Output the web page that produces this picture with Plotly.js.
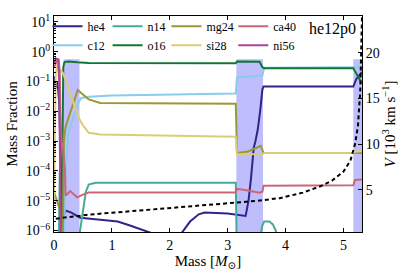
<!DOCTYPE html>
<html><head><meta charset="utf-8">
<script src="https://cdn.plot.ly/plotly-3.0.1.min.js"></script>
<style>html,body{margin:0;padding:0;background:#fff}#c{width:411px;height:274px}</style>
</head><body><div id="c"></div>
<script>
// ---- data (mass coordinate in Msun, mass fractions) ----
const he4_m = [0.0,0.03,0.06,0.09,0.12,0.14,0.17,0.2,0.3,0.45,0.8,1.1,1.3,1.5,1.7,2.0,2.2,2.35,2.5,2.6,3.0,3.31,3.36,3.40,3.45,3.48,3.52,3.56,3.60,3.62,5.17,5.22,5.32];
const he4_x = [0.15,0.06,0.1,0.02,1e-4,1e-6,3e-6,4.7e-6,4e-6,2.7e-6,2.3e-6,2e-6,1.5e-6,1.1e-6,8e-7,6e-7,8e-7,2e-6,3.5e-6,4e-6,3.7e-6,3.1e-6,1e-5,5e-5,6e-4,1e-3,2.5e-3,1e-2,0.055,0.068,0.068,0.12,0.21];

const c12_m = [0.17,0.19,0.2,0.25,0.3,0.37,0.43,0.47,0.6,1.0,2.0,3.14,3.16,3.5,3.6,3.63,5.17,5.32];
const c12_x = [1e-7,1e-5,1e-4,2e-3,4e-3,0.01,0.021,0.028,0.031,0.034,0.037,0.04,0.135,0.15,0.16,0.29,0.3,0.3];

const n14_m = [0.08,0.1,0.12,0.4,0.45,0.5,0.55,0.6,0.72,3.14,3.16,3.55,3.6,3.63,3.72,3.78,3.83,3.87];
const n14_x = [1e-7,1e-4,1e-7,1e-7,1e-6,5e-6,2e-5,3.5e-5,4e-5,4e-5,1e-7,5e-7,1.5e-6,2e-6,2e-6,1.6e-6,1e-6,3e-7];

const o16_m = [0.13,0.15,0.16,0.18,0.25,0.4,0.6,3.14,3.16,3.55,3.6,3.63,5.17,5.32];
const o16_x = [1e-7,0.03,0.3,0.45,0.47,0.44,0.42,0.41,0.47,0.46,0.3,0.28,0.28,0.085];

const mg24_m = [0.0,0.05,0.1,0.13,0.15,0.17,0.2,0.25,0.3,0.37,0.41,0.48,0.6,0.8,3.14,3.16,3.35,3.5,3.57,3.62,5.17,5.32];
const mg24_x = [2e-5,1e-5,5e-6,1e-7,1e-7,1e-3,3e-3,6e-3,0.012,0.03,0.052,0.04,0.025,0.019,0.018,4e-4,4.5e-4,6e-4,7e-4,4e-4,3.8e-4,4e-4];

const si28_m = [0.0,0.01,0.03,0.06,0.1,0.15,0.23,0.3,0.37,0.43,0.49,0.6,0.8,1.5,3.14,3.16,3.5,3.6,3.63,5.17,5.22,5.32];
const si28_x = [1e-5,2e-4,0.2,0.35,0.25,0.2,0.08,0.03,0.013,6e-3,3.6e-3,1.9e-3,1.66e-3,1.6e-3,1.4e-3,3.7e-4,3.5e-4,3.6e-4,4e-4,4e-4,4.5e-4,4.6e-4];

const ca40_m = [0.0,0.04,0.08,0.1,0.11,0.13,0.16,0.19,0.2,0.22,0.28,0.34,0.4,0.5,0.6,3.14,3.16,3.3,3.55,3.6,3.62,5.17,5.2,5.32];
const ca40_x = [0.3,0.45,0.58,0.2,1e-2,1e-3,5e-4,1e-4,1.5e-5,1.6e-5,2.1e-5,1.6e-5,1.3e-5,1.6e-5,1.9e-5,1.9e-5,2.5e-5,2.3e-5,1.85e-5,2e-5,3.2e-5,3.3e-5,5e-5,5.2e-5];

const ni56_m = [0.0,0.03,0.07,0.09,0.1,0.11,0.12];
const ni56_x = [0.4,0.6,0.55,0.1,1e-3,1e-5,1e-7];

// velocity (10^3 km/s), right axis
const v_m = [0.03,0.3,0.6,1.0,1.5,2.0,2.5,3.0,3.5,3.9,4.3,4.6,4.8,5.0,5.12,5.2,5.25,5.29,5.31,5.32];
const v_v = [1.85,2.1,2.3,2.5,2.75,3.0,3.25,3.5,3.8,4.1,4.7,5.4,6.0,7.0,8.2,10,12,15.8,20,24];

// shaded burning regions (mass ranges)
const shadeRanges = [[0.17,0.44],[3.15,3.61],[5.17,5.4]];

const species = ['he4','c12','n14','o16','mg24','si28','ca40','ni56'];
const colors  = ['#332288','#88CCEE','#44AA99','#117733','#999933','#DDCC77','#CC6677','#AA4499'];
const legendIds = ['legend','legend','legend2','legend2','legend3','legend3','legend4','legend4'];
const xs = [he4_m,c12_m,n14_m,o16_m,mg24_m,si28_m,ca40_m,ni56_m];
const ys = [he4_x,c12_x,n14_x,o16_x,mg24_x,si28_x,ca40_x,ni56_x];

const yTickVals = [1e-6,1e-5,1e-4,1e-3,1e-2,1e-1,1,10];
const yTickText = ['10<sup>−6</sup>','10<sup>−5</sup>','10<sup>−4</sup>','10<sup>−3</sup>','10<sup>−2</sup>','10<sup>−1</sup>','10<sup>0</sup>','10<sup>1</sup>'];
const xTickVals = [0,1,2,3,4,5];
const vTickVals = [5,10,15,20];

const minorVals = [];
for (let e=-7; e<=1; e++) for (let k=2;k<=9;k++) minorVals.push(k*Math.pow(10,e));

const FONT = 'Liberation Serif, DejaVu Serif, serif';
const traces = species.map((s,i)=>({
  x: xs[i], y: ys[i], type:'scatter', mode:'lines', name:s,
  line:{color:colors[i], width:2}, legend: legendIds[i], yaxis:'y'
}));
traces.push({x:v_m, y:v_v, type:'scatter', mode:'lines', yaxis:'y2', showlegend:false,
  line:{color:'black', width:2, dash:'4px,3px'}});

const shapes = shadeRanges.map(r=>({type:'rect', xref:'x', yref:'paper', x0:r[0], x1:r[1], y0:0, y1:0.8,
  fillcolor:'rgb(190,190,252)', line:{width:0}, layer:'below'}));

function leg(x){ return {orientation:'v', x:x, y:1.02, xanchor:'left', yanchor:'top',
  font:{size:12, family:FONT}, bgcolor:'rgba(0,0,0,0)', borderwidth:0, tracegroupgap:0, itemwidth:30}; }

const layout = {
  width:411, height:274,
  margin:{l:53.5, r:49.3, t:14, b:42.3},
  paper_bgcolor:'white', plot_bgcolor:'white',
  font:{family:FONT, size:14, color:'black'},
  showlegend:true,
  legend: leg(-0.021), legend2: leg(0.174), legend3: leg(0.365), legend4: leg(0.582),
  xaxis:{range:[0,5.32], tickvals:xTickVals, ticks:'inside', ticklen:4, tickcolor:'black', showline:true, linecolor:'black', linewidth:1,
    mirror:'ticks', showgrid:false, zeroline:false, title:{text:'Mass [<i>M</i><sub>⊙</sub>]', font:{size:15}, standoff:2}},
  yaxis:{type:'log', range:[-6.05,1.2], tickvals:yTickVals, ticktext:yTickText, ticks:'inside', ticklen:4, tickcolor:'black',
    showline:true, linecolor:'black', linewidth:1, showgrid:false, zeroline:false,
    minor:{tickvals:minorVals, ticks:'inside', ticklen:2, tickcolor:'black', showgrid:false},
    title:{text:'Mass Fraction', font:{size:15}, standoff:4}},
  yaxis2:{overlaying:'y', side:'right', range:[0.4,24], tickvals:vTickVals, ticks:'inside', ticklen:4, tickcolor:'black',
    showline:true, linecolor:'black', linewidth:1, showgrid:false, zeroline:false,
    title:{text:'<i>V</i> [10<sup>3</sup> km s<sup>−1</sup>]', font:{size:15}, standoff:4}},
  shapes: shapes,
  annotations:[{text:'he12p0', xref:'paper', yref:'paper', x:0.905, y:0.94, xanchor:'center', yanchor:'middle', showarrow:false, font:{size:16}}]
};
Plotly.newPlot('c', traces, layout, {staticPlot:true, displayModeBar:false});
</script></body></html>
